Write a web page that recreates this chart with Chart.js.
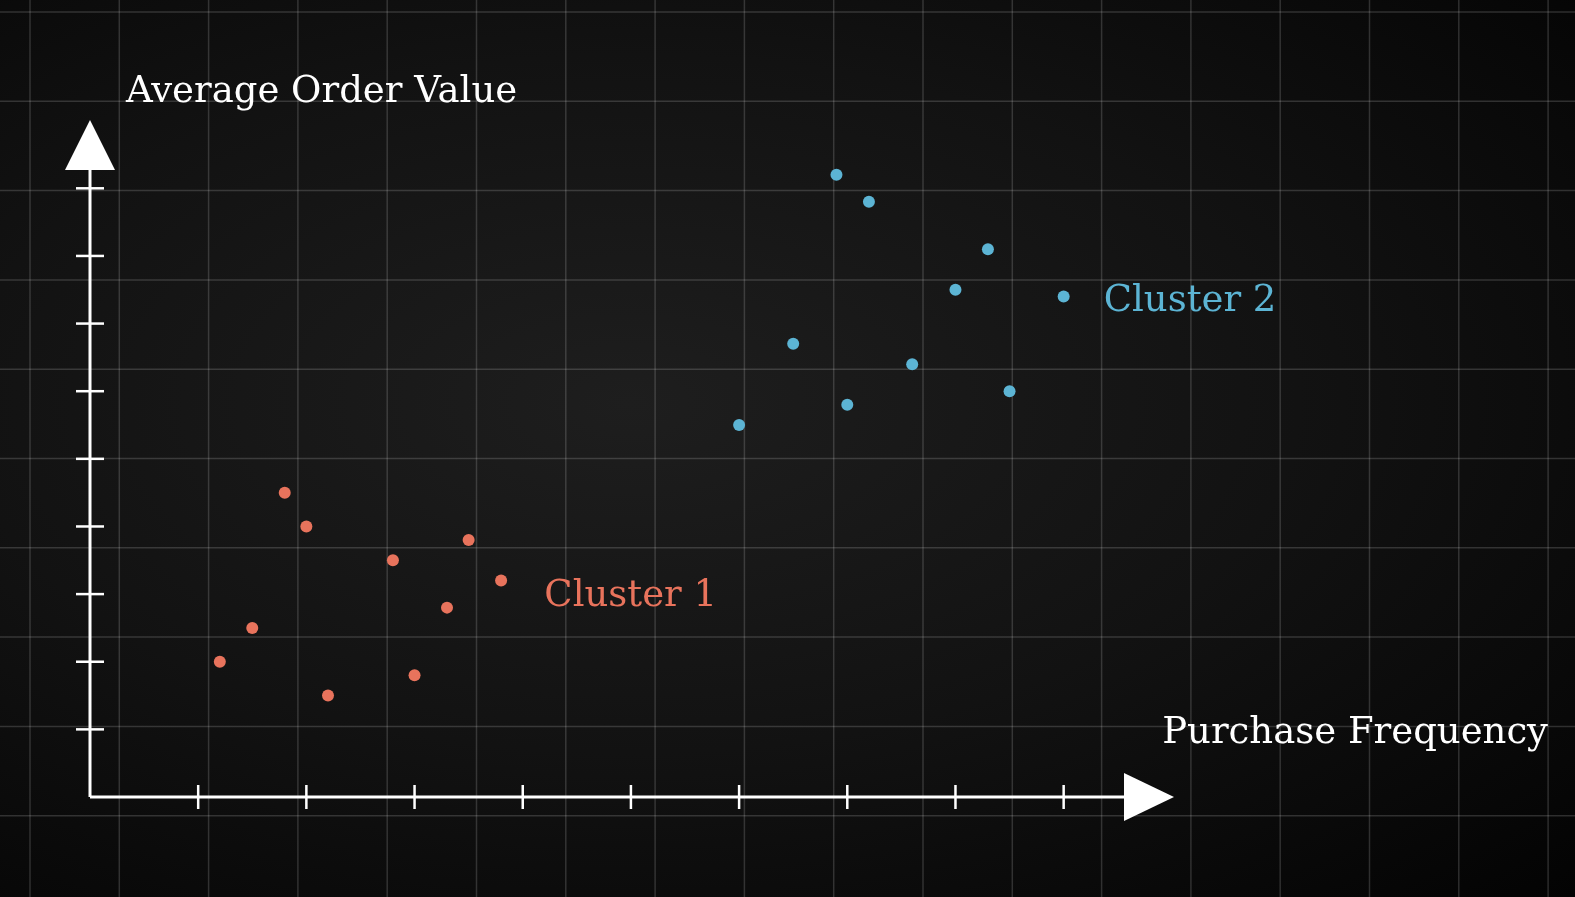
<!DOCTYPE html>
<html><head><meta charset="utf-8">
<script src="https://cdn.jsdelivr.net/npm/chart.js@4"></script>
<style>html,body{margin:0;padding:0;background:#000;overflow:hidden;}#wrap{width:1575px;height:897px;background:radial-gradient(ellipse at 40% 45%,#1e1e1e 0%,#121212 50%,#030303 100%);}</style>
</head><body><div id="wrap"><canvas id="c" width="1575" height="897"></canvas></div>
<script>
const cluster1X=[1.2,1.5,1.8,2.0,2.2,2.8,3.0,3.3,3.5,3.8];
const cluster1Y=[2.0,2.5,4.5,4.0,1.5,3.5,1.8,2.8,3.8,3.2];
const cluster2X=[6.0,6.5,6.9,7.0,7.2,7.6,8.0,8.3,8.5,9.0];
const cluster2Y=[5.5,6.7,9.2,5.8,8.8,6.4,7.5,8.1,6.0,7.4];
const xTicks=[1,2,3,4,5,6,7,8,9];
const yTicks=[1,2,3,4,5,6,7,8,9];
const xTitle="Purchase Frequency", yTitle="Average Order Value";
const seriesNames=["Cluster 1","Cluster 2"];
const RED="#E8735C", BLUE="#5CB4D4";
const pts=(xs,ys)=>xs.map((x,i)=>({x,y:ys[i]}));
const deco={id:'deco',
 beforeDatasetsDraw(ch){
  const c=ch.ctx;c.save();
  c.strokeStyle='rgba(255,255,255,0.16)';c.lineWidth=1.5;
  for(let x=30;x<1575;x+=89.3){c.beginPath();c.moveTo(x,0);c.lineTo(x,897);c.stroke();}
  for(let y=12;y<897;y+=89.3){c.beginPath();c.moveTo(0,y);c.lineTo(1575,y);c.stroke();}
  const xs=ch.scales.x, ys=ch.scales.y;
  const ox=xs.getPixelForValue(0), oy=ys.getPixelForValue(0);
  const xe=xs.right, yt=ys.top;
  c.strokeStyle='#fff';c.fillStyle='#fff';c.lineWidth=3;
  c.beginPath();c.moveTo(ox,oy);c.lineTo(xe-45,oy);c.stroke();
  c.beginPath();c.moveTo(ox,oy);c.lineTo(ox,yt+45);c.stroke();
  c.beginPath();c.moveTo(xe,oy);c.lineTo(xe-50,oy-24);c.lineTo(xe-50,oy+24);c.closePath();c.fill();
  c.beginPath();c.moveTo(ox,yt);c.lineTo(ox-25,yt+50);c.lineTo(ox+25,yt+50);c.closePath();c.fill();
  c.lineWidth=2.5;
  xTicks.forEach(t=>{const p=xs.getPixelForValue(t);c.beginPath();c.moveTo(p,oy-12);c.lineTo(p,oy+12);c.stroke();});
  yTicks.forEach(t=>{const p=ys.getPixelForValue(t);c.beginPath();c.moveTo(ox-14,p);c.lineTo(ox+14,p);c.stroke();});
  c.font='37px "DejaVu Serif", "Liberation Serif", serif';
  c.textBaseline='middle';
  c.fillStyle='#fff';c.textAlign='left';
  c.fillText(yTitle,126,92);
  c.textAlign='right';c.fillText(xTitle,1548,733);
  c.textAlign='left';
  c.fillStyle=RED;c.fillText(seriesNames[0],xs.getPixelForValue(4.2),ys.getPixelForValue(2.97));
  c.fillStyle=BLUE;c.fillText(seriesNames[1],xs.getPixelForValue(9.37),ys.getPixelForValue(7.33));
  c.restore();
 }};
new Chart(document.getElementById('c'),{
 type:'scatter',
 data:{datasets:[
  {label:seriesNames[0],data:pts(cluster1X,cluster1Y),backgroundColor:RED,borderWidth:0,pointRadius:6},
  {label:seriesNames[1],data:pts(cluster2X,cluster2Y),backgroundColor:BLUE,borderWidth:0,pointRadius:6}]},
 options:{responsive:false,animation:false,
  layout:{padding:{left:90,right:401,top:120,bottom:100}},
  plugins:{legend:{display:false},tooltip:{enabled:false}},
  scales:{x:{type:'linear',min:0,max:10.02,display:false},y:{type:'linear',min:0,max:10.01,display:false}}},
 plugins:[deco]});
</script></body></html>
